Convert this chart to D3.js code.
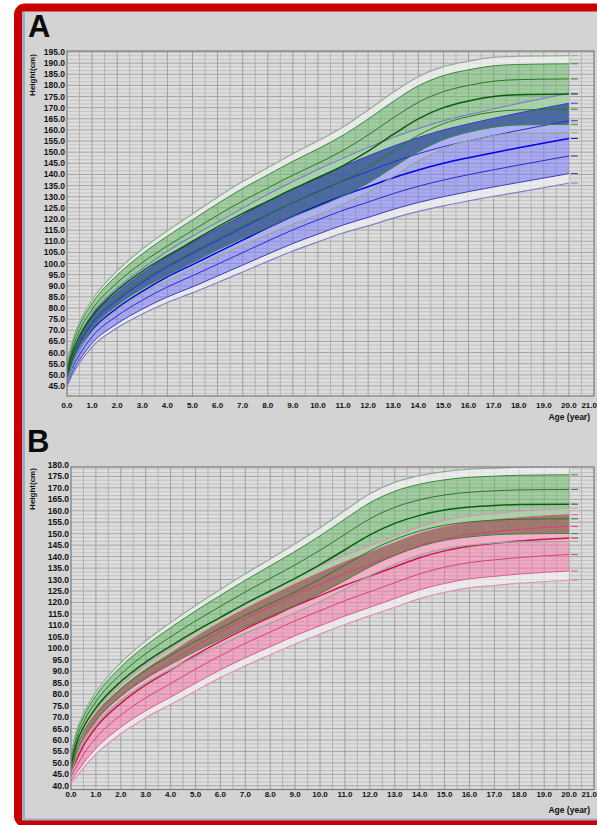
<!DOCTYPE html>
<html>
<head>
<meta charset="utf-8">
<script src="https://cdn.jsdelivr.net/npm/d3@7"></script>
<style>
  body { margin: 0; background: #fff; }
  svg { display: block; font-family: "Liberation Sans", Arial, sans-serif; }
</style>
</head>
<body>
<svg id="chart" width="597" height="825"></svg>
<script>
// ages (year) at which the percentile curves were read
var ages = [0, 0.25, 0.5, 1, 2, 3, 4, 5, 6, 7, 8, 9, 10, 11, 12, 13, 14, 15, 16, 17, 18, 20];
var xTicks = d3.range(0, 22);

// rows: pale low, fill low, low, median, high, fill high, pale high
var aGreen = [
  [46.4, 55.6, 61.4, 69.4, 79.3, 86.6, 92.3, 97.8, 103.2, 108.2, 113.0, 117.7, 121.9, 126.7, 132.1, 139.1, 146.1, 151.6, 155.2, 157.4, 158.5, 158.8],
  [47.4, 56.8, 62.7, 70.9, 81.2, 88.7, 94.7, 100.4, 106.1, 111.3, 116.2, 121.1, 125.5, 130.4, 136.1, 143.2, 150.2, 155.6, 159.0, 161.2, 162.2, 162.5],
  [49.2, 58.9, 65.1, 73.7, 84.6, 92.6, 99.1, 105.2, 111.3, 116.9, 122.1, 127.3, 132.0, 137.2, 143.3, 150.6, 157.6, 162.8, 166.0, 168.1, 169.0, 169.3],
  [51.0, 61.0, 67.5, 76.5, 88.0, 96.5, 103.5, 110.0, 116.5, 122.5, 128.0, 133.5, 138.5, 144.0, 150.5, 158.0, 165.0, 170.0, 173.0, 175.0, 175.8, 176.1],
  [52.8, 63.1, 69.9, 79.3, 91.4, 100.4, 107.9, 114.8, 121.7, 128.1, 133.9, 139.7, 145.0, 150.8, 157.7, 165.4, 172.4, 177.2, 180.0, 181.9, 182.6, 182.9],
  [54.6, 65.2, 72.3, 82.1, 94.8, 104.3, 112.3, 119.6, 126.9, 133.7, 139.8, 145.9, 151.5, 157.6, 164.9, 172.8, 179.8, 184.4, 187.0, 188.8, 189.4, 189.7],
  [55.6, 66.4, 73.6, 83.6, 96.7, 106.5, 114.7, 122.2, 129.8, 136.8, 143.0, 149.3, 155.1, 161.3, 168.9, 176.9, 183.9, 188.4, 190.9, 192.6, 193.1, 193.4]
];
var aBlue = [
  [44.9, 50.9, 55.4, 62.6, 71.1, 77.3, 82.5, 86.8, 91.5, 96.2, 101.0, 105.6, 109.7, 113.7, 116.9, 120.4, 123.4, 125.9, 128.1, 130.2, 132.1, 136.1],
  [45.8, 52.0, 56.7, 64.2, 73.0, 79.5, 85.0, 89.5, 94.4, 99.3, 104.2, 109.0, 113.2, 117.3, 120.7, 124.3, 127.4, 130.0, 132.3, 134.4, 136.4, 140.4],
  [47.4, 54.0, 59.1, 67.1, 76.5, 83.5, 89.5, 94.5, 99.7, 104.9, 110.1, 115.1, 119.6, 123.9, 127.6, 131.4, 134.7, 137.5, 139.9, 142.1, 144.2, 148.3],
  [49.0, 56.0, 61.5, 70.0, 80.0, 87.5, 94.0, 99.5, 105.0, 110.5, 116.0, 121.2, 126.0, 130.5, 134.5, 138.5, 142.0, 145.0, 147.5, 149.8, 152.0, 156.2],
  [50.6, 58.0, 63.9, 72.9, 83.5, 91.5, 98.5, 104.5, 110.3, 116.1, 121.9, 127.3, 132.4, 137.1, 141.4, 145.6, 149.3, 152.5, 155.1, 157.5, 159.8, 164.1],
  [52.2, 60.0, 66.3, 75.8, 87.0, 95.5, 103.0, 109.5, 115.6, 121.7, 127.8, 133.4, 138.8, 143.7, 148.3, 152.7, 156.6, 160.0, 162.7, 165.2, 167.6, 172.0],
  [53.1, 61.1, 67.6, 77.4, 88.9, 97.7, 105.5, 112.3, 118.5, 124.8, 131.1, 136.8, 142.3, 147.3, 152.1, 156.6, 160.6, 164.1, 166.9, 169.4, 171.9, 176.4]
];
var bGreen = [
  [44.9, 54.1, 59.6, 67.1, 77.3, 84.8, 90.8, 96.3, 101.3, 106.5, 111.0, 115.5, 120.4, 125.9, 131.7, 136.7, 140.7, 143.5, 145.0, 146.0, 146.4, 146.6],
  [45.9, 55.3, 60.9, 68.6, 79.1, 86.8, 93.0, 98.7, 103.9, 109.3, 114.0, 118.7, 123.9, 129.6, 135.5, 140.5, 144.4, 147.1, 148.6, 149.5, 149.9, 150.1],
  [47.7, 57.4, 63.2, 71.3, 82.3, 90.4, 97.0, 103.1, 108.7, 114.4, 119.5, 124.6, 130.2, 136.3, 142.5, 147.5, 151.2, 153.7, 155.1, 155.9, 156.3, 156.5],
  [49.5, 59.5, 65.5, 74.0, 85.5, 94.0, 101.0, 107.5, 113.5, 119.5, 125.0, 130.5, 136.5, 143.0, 149.5, 154.5, 158.0, 160.3, 161.6, 162.3, 162.7, 162.9],
  [51.3, 61.6, 67.8, 76.7, 88.7, 97.6, 105.0, 111.9, 118.3, 124.6, 130.5, 136.4, 142.8, 149.7, 156.5, 161.5, 164.8, 166.9, 168.1, 168.7, 169.1, 169.3],
  [53.1, 63.7, 70.1, 79.4, 91.9, 101.2, 109.0, 116.3, 123.1, 129.7, 136.0, 142.3, 149.1, 156.4, 163.5, 168.5, 171.6, 173.5, 174.6, 175.1, 175.5, 175.7],
  [54.1, 64.9, 71.4, 80.9, 93.7, 103.2, 111.2, 118.7, 125.7, 132.5, 139.0, 145.6, 152.6, 160.1, 167.4, 172.4, 175.3, 177.1, 178.2, 178.6, 179.0, 179.2]
];
var bPink = [
  [41.2, 44.4, 47.8, 53.8, 62.7, 69.7, 75.5, 81.4, 87.2, 92.4, 97.2, 101.9, 106.2, 110.4, 114.2, 117.9, 121.7, 124.4, 126.4, 127.4, 128.4, 129.7],
  [42.2, 46.0, 49.9, 56.3, 65.6, 72.8, 78.7, 84.8, 90.6, 95.9, 100.7, 105.5, 109.8, 114.1, 117.9, 121.7, 125.5, 128.3, 130.3, 131.4, 132.4, 133.7],
  [44.1, 49.0, 53.7, 60.9, 70.8, 78.4, 84.6, 90.9, 96.8, 102.2, 107.1, 112.0, 116.4, 120.8, 124.7, 128.6, 132.5, 135.4, 137.4, 138.6, 139.6, 140.9],
  [46.0, 52.0, 57.5, 65.5, 76.0, 84.0, 90.5, 97.0, 103.0, 108.5, 113.5, 118.5, 123.0, 127.5, 131.5, 135.5, 139.5, 142.5, 144.5, 145.8, 146.8, 148.1],
  [47.6, 54.0, 59.8, 68.2, 79.1, 87.4, 94.2, 101.0, 107.2, 112.9, 118.1, 123.3, 128.0, 132.6, 136.7, 140.8, 144.8, 147.7, 149.7, 150.9, 151.9, 153.2],
  [49.2, 56.0, 62.1, 70.9, 82.2, 90.8, 97.9, 105.0, 111.4, 117.3, 122.7, 128.1, 133.0, 137.7, 141.9, 146.1, 150.1, 152.9, 154.9, 156.0, 157.0, 158.3],
  [50.1, 57.1, 63.4, 72.4, 83.9, 92.7, 99.9, 107.2, 113.7, 119.7, 125.2, 130.7, 135.8, 140.5, 144.8, 149.0, 153.0, 155.8, 157.8, 158.8, 159.8, 161.1]
];

var aYTicks = d3.range(45, 196, 5);
var bYTicks = d3.range(40, 181, 5);

var green = {fill: "rgba(96,184,96,0.48)", pale: "#93ad93", edge: "#3a8a3a", inner: "#287a28", mid: "#0c5c0c"};
var blue = {fill: "rgba(118,118,255,0.5)", pale: "#8080c8", edge: "#3c3cc8", inner: "#2a2ad4", mid: "#0000ea"};
var pink = {fill: "rgba(255,112,168,0.48)", pale: "#de92b4", edge: "#e25890", inner: "#d8407e", mid: "#cc1450"};

var svg = d3.select("#chart");

var defs = svg.append("defs");
defs.append("filter").attr("id", "soft")
  .append("feGaussianBlur").attr("stdDeviation", 0.35);

// frame
svg.append("rect")
  .attr("x", 18).attr("y", 7.5)
  .attr("width", 640).attr("height", 815.5)
  .attr("rx", 7)
  .style("fill", "#d3d3d3")
  .style("stroke", "#c80000")
  .style("stroke-width", 8);
svg.append("line").attr("x1", 23.5).attr("x2", 23.5).attr("y1", 11.5).attr("y2", 819)
  .style("stroke", "#9aaecc").style("stroke-width", 3);
svg.append("line").attr("x1", 22).attr("x2", 597).attr("y1", 819.5).attr("y2", 819.5)
  .style("stroke", "#9aaecc").style("stroke-width", 2);

drawPanel({
  id: "A", letterX: 28, letterY: 37,
  left: 67, top: 51, bottom: 396, yDomain: [40.5, 195.45], yTicks: aYTicks,
  xLabelY: 408, ageLabelY: 420, heightY: 75,
  ref: aGreen, grp: aBlue, refStyle: green, grpStyle: blue, overlap: "rgba(52,84,140,0.7)"
});
drawPanel({
  id: "B", letterX: 27, letterY: 452,
  left: 71, top: 467, bottom: 789.5, yDomain: [38.4, 179.1], yTicks: bYTicks,
  xLabelY: 797, ageLabelY: 813, heightY: 489,
  ref: bGreen, grp: bPink, refStyle: green, grpStyle: pink, overlap: "rgba(140,102,84,0.66)"
});

function drawPanel(c) {
  var right = 594;
  var x = d3.scaleLinear().domain([0, 21]).range([c.left, right]);
  var y = d3.scaleLinear().domain(c.yDomain).range([c.bottom, c.top]);
  var g = svg.append("g");

  g.append("text").text(c.id)
    .attr("x", c.letterX).attr("y", c.letterY)
    .style("font-size", "31px").style("font-weight", "bold").style("fill", "#0a0a0a");

  var clipId = "clip" + c.id;
  g.append("clipPath").attr("id", clipId).append("rect")
    .attr("x", c.left).attr("y", c.top)
    .attr("width", right - c.left).attr("height", c.bottom - c.top);

  var soft = g.append("g").attr("filter", "url(#soft)");

  // plot background and grid
  soft.append("rect")
    .attr("x", c.left).attr("y", c.top)
    .attr("width", right - c.left).attr("height", c.bottom - c.top)
    .style("fill", "#dddddd");

  var hLines = d3.range(c.yTicks[0] - 5, c.yDomain[1], 5 / 3).filter(function(v) { return v > c.yDomain[0]; });
  soft.selectAll(".hgrid").data(hLines).enter().append("line")
    .attr("x1", c.left).attr("x2", right)
    .attr("y1", function(d) { return y(d); }).attr("y2", function(d) { return y(d); })
    .style("stroke", function(d) {
      var k = (d - c.yTicks[0]) / 5;
      return Math.abs(k - Math.round(k)) < 0.01 ? "#a5a5a5" : "#c3c3c3";
    })
    .style("stroke-width", 1);

  soft.selectAll(".vgrid").data(d3.range(0.5, 21, 0.5)).enter().append("line")
    .attr("x1", function(d) { return x(d); }).attr("x2", function(d) { return x(d); })
    .attr("y1", c.top).attr("y2", c.bottom)
    .style("stroke", function(d) { return d % 1 === 0 ? "#a0a0a0" : "#b2b2b2"; })
    .style("stroke-width", 1);

  var plot = soft.append("g").attr("clip-path", "url(#" + clipId + ")");

  var band = function(lo, hi) {
    return d3.area()
      .x(function(d, i) { return x(ages[i]); })
      .y0(function(d, i) { return y(lo[i]); })
      .y1(function(d, i) { return y(hi[i]); })
      .curve(d3.curveMonotoneX)(ages);
  };
  var line = function(arr) {
    return d3.line()
      .x(function(d, i) { return x(ages[i]); })
      .y(function(d) { return y(d); })
      .curve(d3.curveMonotoneX)(arr);
  };

  // pale bands between outer lines and filled zone
  [c.ref, c.grp].forEach(function(s) {
    plot.append("path").attr("d", band(s[0], s[1])).style("fill", "rgba(242,242,242,0.7)");
    plot.append("path").attr("d", band(s[5], s[6])).style("fill", "rgba(242,242,242,0.7)");
  });

  plot.append("path").attr("d", band(c.ref[1], c.ref[5])).style("fill", c.refStyle.fill);
  plot.append("path").attr("d", band(c.grp[1], c.grp[5])).style("fill", c.grpStyle.fill);

  var ovId = "ov" + c.id;
  g.append("clipPath").attr("id", ovId).append("path").attr("d", band(c.ref[1], c.ref[5]));
  plot.append("path").attr("d", band(c.grp[1], c.grp[5]))
    .attr("clip-path", "url(#" + ovId + ")")
    .style("fill", c.overlap);

  // curves
  var styleFor = function(st, i) {
    if (i === 0 || i === 6) return {color: st.pale, w: 1.2};
    if (i === 1 || i === 5) return {color: st.edge, w: 1};
    if (i === 3) return {color: st.mid, w: 1.5};
    return {color: st.inner, w: 1};
  };
  [[c.grp, c.grpStyle], [c.ref, c.refStyle]].forEach(function(pair) {
    pair[0].forEach(function(arr, i) {
      var s = styleFor(pair[1], i);
      plot.append("path").attr("d", line(arr))
        .style("fill", "none").style("stroke", s.color).style("stroke-width", s.w);
      var yEnd = y(arr[arr.length - 1]);
      soft.append("line")
        .attr("x1", x(20) + 2).attr("x2", x(20) + 9)
        .attr("y1", yEnd).attr("y2", yEnd)
        .style("stroke", s.color).style("stroke-width", 1);
    });
  });

  soft.append("rect")
    .attr("x", c.left).attr("y", c.top)
    .attr("width", right - c.left).attr("height", c.bottom - c.top)
    .style("fill", "none").style("stroke", "#7c7c7c").style("stroke-width", 1.2);

  // axis labels
  g.selectAll(".ylab").data(c.yTicks).enter().append("text")
    .attr("x", c.left - 2).attr("y", function(d) { return y(d) + 3; })
    .attr("text-anchor", "end")
    .style("font-size", "8.5px").style("font-weight", "bold").style("fill", "#111")
    .text(function(d) { return d.toFixed(1); });

  g.selectAll(".xlab").data(xTicks).enter().append("text")
    .attr("x", function(d) { return d === 21 ? 597 : x(d); }).attr("y", c.xLabelY)
    .attr("text-anchor", function(d) { return d === 21 ? "end" : "middle"; })
    .style("font-size", "8px").style("font-weight", "bold").style("fill", "#111")
    .text(function(d) { return d.toFixed(1); });

  g.append("text").text("Age (year)")
    .attr("x", 590).attr("y", c.ageLabelY).attr("text-anchor", "end")
    .style("font-size", "8.5px").style("font-weight", "bold").style("fill", "#111");

  g.append("text").text("Height(cm)")
    .attr("transform", "translate(35," + c.heightY + ") rotate(-90)")
    .attr("text-anchor", "middle")
    .style("font-size", "8px").style("font-weight", "bold").style("fill", "#111");
}
</script>
</body>
</html>
